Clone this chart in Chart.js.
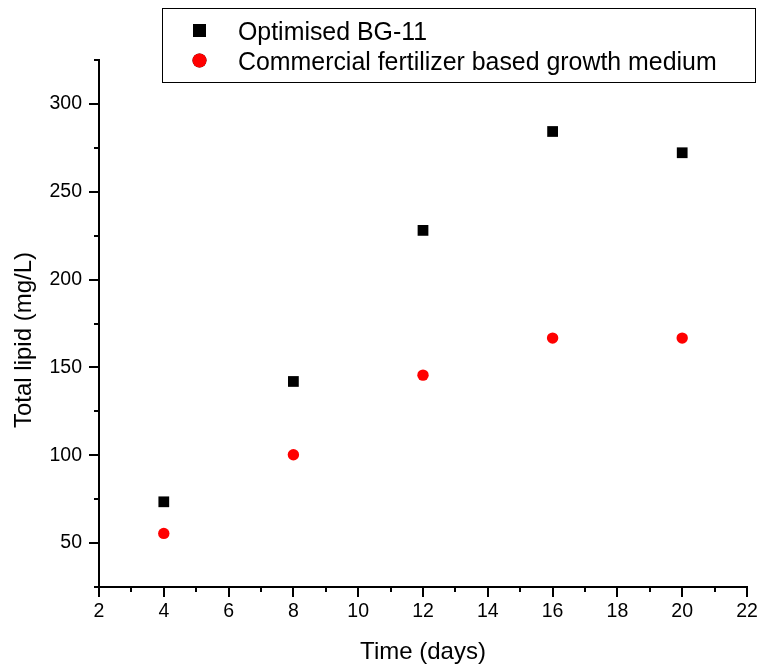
<!DOCTYPE html>
<html>
<head>
<meta charset="utf-8">
<script src="https://cdn.jsdelivr.net/npm/chart.js@4/dist/chart.umd.min.js"></script>
<style>
  html, body { margin: 0; padding: 0; background: #fff; }
  #wrap { width: 763px; height: 671px; position: relative; }
</style>
</head>
<body>
<div id="wrap"><canvas id="c" width="763" height="671"></canvas></div>
<script>
// Sampling days and total lipid measured for each medium
const days = [4, 8, 12, 16, 20];
const lipidBG11 = [73.5, 142, 228, 284.3, 272.2];
const lipidFertilizer = [55.5, 100.3, 145.6, 166.7, 166.7];

const seriesNames = ['Optimised BG-11', 'Commercial fertilizer based growth medium'];
const xTitle = 'Time (days)';
const yTitle = 'Total lipid (mg/L)';

// Axis extents and labelled ticks
const xRange = [2, 22];
const yRange = [25, 325];
const xTickLabels = [2, 4, 6, 8, 10, 12, 14, 16, 18, 20, 22];
const yTickLabels = [50, 100, 150, 200, 250, 300];

const FONT = '"Liberation Sans", Arial, Helvetica, sans-serif';

const toPoints = (xs, ys) => xs.map((x, i) => ({ x: x, y: ys[i] }));

// Major and minor tick marks drawn outward from the axes, plus axis titles and legend box
const decorations = {
  id: 'decorations',
  afterDraw(chart) {
    const ctx = chart.ctx;
    const xs = chart.scales.x, ys = chart.scales.y;
    const area = chart.chartArea;
    ctx.save();
    ctx.strokeStyle = '#000';
    ctx.lineWidth = 2;
    ctx.lineCap = 'butt';
    // x ticks: major every 2, minor every 1
    for (let v = xRange[0]; v <= xRange[1]; v += 1) {
      const px = Math.round(xs.getPixelForValue(v));
      const len = xTickLabels.includes(v) ? 10 : 5;
      ctx.beginPath();
      ctx.moveTo(px, area.bottom);
      ctx.lineTo(px, area.bottom + len);
      ctx.stroke();
    }
    // y ticks: major every 50, minor every 25
    for (let v = yRange[0]; v <= yRange[1]; v += 25) {
      const py = Math.round(ys.getPixelForValue(v));
      const len = yTickLabels.includes(v) ? 10 : 5;
      ctx.beginPath();
      ctx.moveTo(area.left, py);
      ctx.lineTo(area.left - len, py);
      ctx.stroke();
    }

    // axis titles
    ctx.fillStyle = '#000';
    ctx.font = '24px ' + FONT;
    ctx.textAlign = 'center';
    ctx.textBaseline = 'alphabetic';
    ctx.fillText(xTitle, (area.left + area.right) / 2, 659);
    ctx.save();
    ctx.translate(31, 340);
    ctx.rotate(-Math.PI / 2);
    ctx.fillText(yTitle, 0, 0);
    ctx.restore();

    // legend box
    ctx.lineWidth = 1;
    ctx.strokeRect(162.5, 8.5, 593, 74);
    const rows = [30.5, 60.5];
    ctx.font = '24.9px ' + FONT;
    ctx.textAlign = 'left';
    chart.data.datasets.forEach((ds, i) => {
      Chart.helpers.drawPoint(ctx, {
        pointStyle: ds.pointStyle,
        radius: ds.pointStyle === 'rect' ? 9.2 : 7,
        borderWidth: 0,
        rotation: 0
      }, 199.5, rows[i]);
      ctx.fillStyle = ds.backgroundColor;
      ctx.fill();
      ctx.fillStyle = '#000';
      ctx.fillText(ds.label, 238, rows[i] + 9);
    });
    ctx.restore();
  }
};

new Chart(document.getElementById('c'), {
  type: 'scatter',
  data: {
    datasets: [
      {
        label: seriesNames[0],
        data: toPoints(days, lipidBG11),
        pointStyle: 'rect',
        pointRadius: 7.6,
        pointHoverRadius: 7.6,
        backgroundColor: '#000000',
        borderColor: '#000000',
        borderWidth: 0
      },
      {
        label: seriesNames[1],
        data: toPoints(days, lipidFertilizer),
        pointStyle: 'circle',
        pointRadius: 5.7,
        pointHoverRadius: 5.7,
        backgroundColor: '#ff0000',
        borderColor: '#ff0000',
        borderWidth: 0
      }
    ]
  },
  options: {
    responsive: false,
    animation: false,
    devicePixelRatio: 1,
    layout: { padding: { top: 60, right: 16, left: 0, bottom: 0 } },
    plugins: {
      legend: { display: false },
      tooltip: { enabled: false }
    },
    scales: {
      x: {
        type: 'linear',
        min: xRange[0],
        max: xRange[1],
        afterBuildTicks: (s) => { s.ticks = xTickLabels.map(v => ({ value: v })); },
        afterFit: (s) => { s.height = 84; s.paddingLeft = 0; s.paddingRight = 0; },
        grid: { display: true, drawOnChartArea: false, drawTicks: false },
        border: { display: true, color: '#000', width: 2 },
        ticks: {
          color: '#000',
          padding: 13,
          font: { family: FONT, size: 19.5 },
          maxRotation: 0,
          autoSkip: false
        }
      },
      y: {
        type: 'linear',
        min: yRange[0],
        max: yRange[1],
        afterBuildTicks: (s) => { s.ticks = yTickLabels.map(v => ({ value: v })); },
        afterFit: (s) => { s.width = 99; s.paddingTop = 0; s.paddingBottom = 0; },
        grid: { display: true, drawOnChartArea: false, drawTicks: false },
        border: { display: true, color: '#000', width: 2 },
        ticks: {
          color: '#000',
          padding: 17,
          font: { family: FONT, size: 19.5 },
          autoSkip: false
        }
      }
    }
  },
  plugins: [decorations]
});
</script>
</body>
</html>
